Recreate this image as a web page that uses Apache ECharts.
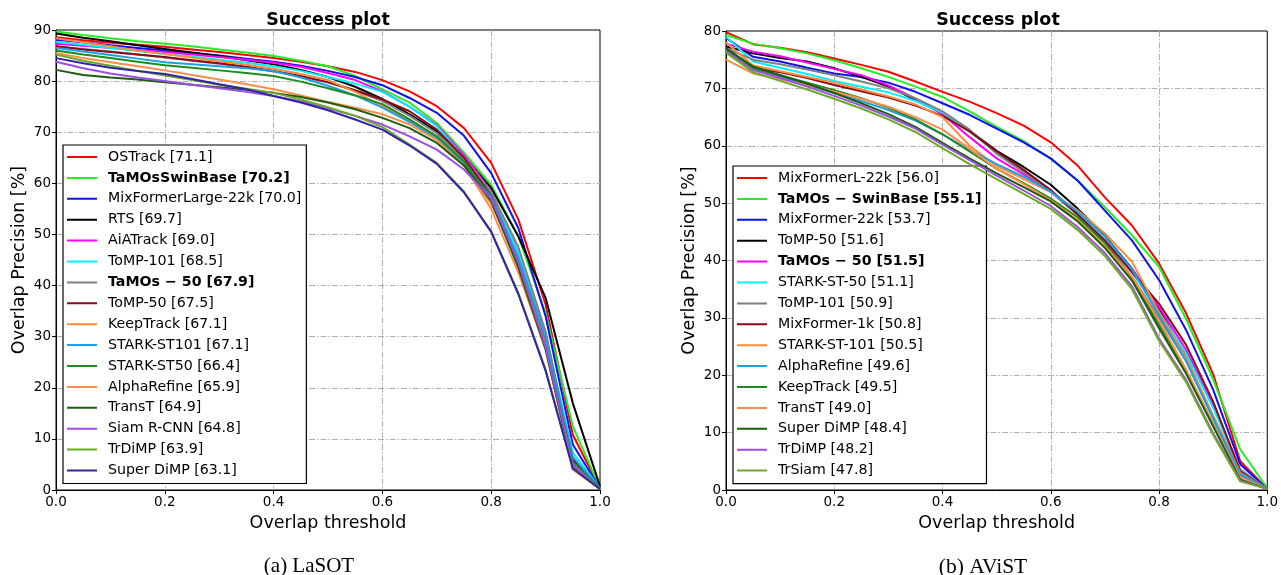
<!DOCTYPE html>
<html>
<head>
<meta charset="utf-8">
<script src="https://cdn.jsdelivr.net/npm/echarts@6/dist/echarts.min.js"></script>
<style>
  html, body { margin: 0; padding: 0; background: #fff; }
  #chart { width: 1281px; height: 575px; }
</style>
</head>
<body>
<div id="chart"></div>
<script>
// overlap thresholds (x values shared by both plots)
const thresholds = [0, 0.05, 0.1, 0.15, 0.2, 0.25, 0.3, 0.35, 0.4, 0.45, 0.5,
                    0.55, 0.6, 0.65, 0.7, 0.75, 0.8, 0.85, 0.9, 0.95, 1.0];

// ---- (a) LaSOT ----
const lasotNames = [
  'OSTrack [71.1]', 'TaMOsSwinBase [70.2]', 'MixFormerLarge-22k [70.0]', 'RTS [69.7]',
  'AiATrack [69.0]', 'ToMP-101 [68.5]', 'TaMOs − 50 [67.9]', 'ToMP-50 [67.5]',
  'KeepTrack [67.1]', 'STARK-ST101 [67.1]', 'STARK-ST50 [66.4]', 'AlphaRefine [65.9]',
  'TransT [64.9]', 'Siam R-CNN [64.8]', 'TrDiMP [63.9]', 'Super DiMP [63.1]'
];
const lasotOSTrack   = [88.6, 88.0, 87.5, 87.1, 86.7, 86.2, 85.7, 85.1, 84.5, 83.8, 82.9, 81.8, 80.2, 78.0, 75.1, 70.8, 64.0, 52.9, 36.3, 10.8, 0.3];
const lasotTaMOsSB   = [89.7, 89.0, 88.4, 87.8, 87.3, 86.8, 86.2, 85.6, 84.9, 84.0, 82.9, 81.0, 78.4, 75.8, 71.8, 66.0, 59.7, 49.6, 34.6, 12.5, 0.3];
const lasotMixFormer = [88.1, 87.6, 87.0, 86.5, 86.0, 85.5, 85.0, 84.4, 83.8, 83.0, 82.0, 80.8, 79.2, 76.7, 73.8, 69.3, 62.0, 51.2, 34.0, 8.9, 0.3];
const lasotRTS       = [89.3, 88.5, 87.8, 87.0, 86.3, 85.6, 84.9, 84.1, 83.3, 82.2, 80.8, 78.9, 76.5, 73.5, 70.2, 65.3, 59.1, 49.6, 37.6, 17.0, 0.7];
const lasotAiATrack  = [87.3, 86.9, 86.5, 86.1, 85.7, 85.2, 84.7, 84.2, 83.6, 82.8, 81.6, 80.2, 78.0, 75.0, 71.4, 65.5, 58.4, 46.5, 30.5, 6.0, 0.3];
const lasotToMP101   = [87.7, 87.1, 86.5, 85.9, 85.3, 84.8, 84.2, 83.6, 82.9, 82.0, 80.8, 79.5, 77.9, 75.0, 71.2, 65.0, 58.1, 46.5, 30.5, 7.3, 0.3];
const lasotTaMOs50   = [86.8, 86.3, 85.8, 85.2, 84.6, 84.0, 83.4, 82.7, 81.9, 80.9, 79.7, 78.1, 76.1, 73.2, 69.8, 64.8, 58.3, 47.5, 31.0, 5.6, 0.3];
const lasotToMP50    = [86.8, 86.2, 85.7, 85.2, 84.7, 84.1, 83.5, 82.8, 82.0, 81.0, 79.8, 78.2, 76.4, 74.1, 70.5, 65.0, 57.5, 45.0, 29.0, 6.0, 0.3];
const lasotKeepTrack = [88.4, 87.6, 86.8, 86.0, 85.3, 84.6, 83.9, 83.2, 82.4, 81.4, 80.2, 77.9, 75.1, 72.2, 68.6, 63.4, 56.0, 44.5, 28.5, 4.0, 0.2];
const lasotStark101  = [86.5, 85.8, 85.1, 84.4, 83.7, 83.3, 82.9, 82.5, 82.0, 80.7, 79.1, 77.2, 74.8, 72.0, 68.8, 64.0, 57.3, 45.5, 29.8, 6.5, 0.3];
const lasotStark50   = [86.0, 85.2, 84.5, 83.8, 83.1, 82.6, 82.1, 81.6, 81.0, 79.9, 78.6, 77.2, 75.5, 72.5, 69.2, 64.3, 56.8, 44.0, 28.0, 5.5, 0.3];
const lasotAlphaRef  = [85.5, 84.5, 83.7, 82.9, 82.1, 81.2, 80.3, 79.4, 78.4, 77.2, 75.9, 74.8, 73.5, 71.5, 68.5, 63.5, 55.0, 42.5, 27.5, 4.0, 0.2];
const lasotTransT    = [82.2, 81.2, 80.7, 80.3, 79.8, 79.3, 78.8, 78.3, 77.7, 76.9, 75.8, 74.5, 72.8, 70.8, 67.9, 63.5, 56.5, 43.5, 27.5, 4.5, 0.2];
const lasotSiamRCNN  = [83.8, 82.5, 81.5, 80.7, 80.0, 79.3, 78.6, 77.9, 77.1, 76.0, 74.7, 73.2, 71.5, 69.2, 66.6, 62.7, 57.0, 44.5, 28.0, 5.0, 0.2];
const lasotTrDiMP    = [85.2, 84.0, 83.0, 82.0, 81.1, 80.2, 79.3, 78.5, 77.7, 76.4, 74.9, 73.2, 71.0, 67.6, 64.0, 58.4, 50.6, 38.5, 23.6, 4.3, 0.2];
const lasotSuperDiMP = [84.5, 83.5, 82.6, 82.0, 81.4, 80.4, 79.4, 78.4, 77.1, 75.8, 74.3, 72.5, 70.5, 67.4, 63.8, 58.2, 50.5, 38.3, 23.3, 4.2, 0.2];
const lasotValues = [lasotOSTrack, lasotTaMOsSB, lasotMixFormer, lasotRTS, lasotAiATrack, lasotToMP101,
  lasotTaMOs50, lasotToMP50, lasotKeepTrack, lasotStark101, lasotStark50, lasotAlphaRef,
  lasotTransT, lasotSiamRCNN, lasotTrDiMP, lasotSuperDiMP];

// ---- (b) AViST ----
const avistNames = [
  'MixFormerL-22k [56.0]', 'TaMOs − SwinBase [55.1]', 'MixFormer-22k [53.7]', 'ToMP-50 [51.6]',
  'TaMOs − 50 [51.5]', 'STARK-ST-50 [51.1]', 'ToMP-101 [50.9]', 'MixFormer-1k [50.8]',
  'STARK-ST-101 [50.5]', 'AlphaRefine [49.6]', 'KeepTrack [49.5]', 'TransT [49.0]',
  'Super DiMP [48.4]', 'TrDiMP [48.2]', 'TrSiam [47.8]'
];
const avistMixFormerL = [79.8, 77.7, 77.1, 76.3, 75.2, 74.1, 72.9, 71.2, 69.4, 67.7, 65.7, 63.5, 60.6, 56.5, 51.0, 46.1, 39.5, 30.8, 20.2, 5.0, 0.2];
const avistTaMOsSB    = [79.3, 77.8, 77.0, 76.1, 74.9, 73.5, 72.0, 70.3, 68.5, 66.0, 63.3, 60.8, 57.7, 53.9, 49.3, 44.4, 38.9, 29.8, 19.3, 7.1, 0.3];
const avistMixFormer  = [78.8, 75.5, 74.7, 73.6, 72.6, 72.0, 71.0, 69.4, 67.4, 65.4, 63.0, 60.6, 57.8, 53.9, 48.7, 43.5, 36.6, 27.9, 17.5, 4.5, 0.2];
const avistToMP50     = [77.3, 76.1, 75.3, 74.7, 73.5, 72.0, 70.3, 68.0, 65.6, 62.6, 59.1, 56.3, 53.2, 49.0, 44.3, 38.6, 31.6, 23.0, 12.8, 3.1, 0.2];
const avistTaMOs50    = [77.8, 76.4, 75.6, 74.5, 73.4, 72.3, 70.5, 68.2, 65.5, 61.5, 57.8, 55.0, 52.0, 48.0, 43.5, 38.5, 31.9, 24.4, 14.9, 3.6, 0.2];
const avistStark50    = [79.0, 74.7, 73.6, 72.5, 71.3, 70.3, 69.3, 67.8, 65.8, 62.5, 58.8, 55.5, 52.2, 48.2, 43.6, 38.0, 31.0, 23.8, 14.3, 3.5, 0.2];
const avistToMP101    = [77.0, 75.0, 74.2, 73.3, 72.3, 71.2, 70.0, 68.3, 66.0, 62.8, 58.6, 55.4, 52.0, 47.9, 43.2, 37.2, 30.0, 22.5, 12.5, 2.5, 0.2];
const avistMixFormer1k = [76.4, 73.6, 72.8, 71.8, 70.6, 69.5, 68.4, 67.0, 65.2, 62.5, 59.0, 55.8, 52.3, 48.0, 43.5, 38.0, 32.5, 25.3, 15.4, 3.3, 0.2];
const avistStark101   = [78.0, 74.0, 73.0, 72.0, 71.0, 69.8, 68.6, 67.2, 65.0, 60.0, 56.5, 54.2, 51.9, 48.7, 44.7, 39.8, 31.0, 23.0, 13.0, 3.0, 0.2];
const avistAlphaRef   = [77.0, 73.5, 72.0, 70.6, 69.2, 67.8, 66.2, 64.4, 62.0, 59.3, 56.8, 54.6, 52.0, 48.5, 44.2, 38.5, 30.5, 22.5, 12.5, 2.8, 0.2];
const avistKeepTrack  = [76.8, 73.5, 72.3, 71.0, 69.7, 68.3, 66.6, 64.6, 62.0, 59.0, 56.0, 53.5, 50.8, 47.5, 43.0, 37.0, 28.8, 20.8, 11.5, 1.8, 0.2];
const avistTransT     = [75.0, 72.6, 71.6, 70.6, 69.4, 68.2, 66.8, 65.0, 62.8, 59.5, 56.0, 53.3, 50.5, 47.0, 42.5, 37.2, 29.5, 21.0, 11.5, 2.2, 0.2];
const avistSuperDiMP  = [77.0, 73.8, 72.3, 70.8, 69.2, 67.4, 65.5, 63.3, 60.5, 57.8, 55.2, 52.8, 50.3, 46.8, 42.2, 36.5, 28.2, 20.3, 11.1, 1.8, 0.2];
const avistTrDiMP     = [76.5, 73.2, 71.8, 70.3, 68.7, 67.0, 65.1, 63.0, 60.2, 57.5, 54.8, 52.2, 49.5, 45.8, 41.3, 35.5, 26.4, 19.2, 9.9, 1.6, 0.2];
const avistTrSiam     = [76.2, 72.8, 71.3, 69.8, 68.2, 66.5, 64.6, 62.4, 59.6, 56.8, 54.2, 51.6, 49.0, 45.3, 40.8, 35.0, 26.0, 18.8, 9.6, 1.5, 0.2];
const avistValues = [avistMixFormerL, avistTaMOsSB, avistMixFormer, avistToMP50, avistTaMOs50, avistStark50,
  avistToMP101, avistMixFormer1k, avistStark101, avistAlphaRef, avistKeepTrack, avistTransT,
  avistSuperDiMP, avistTrDiMP, avistTrSiam];

const yTicksLasot = [0, 10, 20, 30, 40, 50, 60, 70, 80, 90];
const yTicksAvist = [0, 10, 20, 30, 40, 50, 60, 70, 80];

// line colours, in legend order
const lasotColors = ['#ff0000', '#22ee22', '#1010f0', '#000000', '#ff00ff', '#00f0ff', '#808080', '#8b0a1e',
  '#ff8a3a', '#1e9fe6', '#1e8b1e', '#ff8c4a', '#1b5e0b', '#9d4ee6', '#6aac22', '#3322aa'];
const avistColors = ['#ff0000', '#22ee22', '#1010f0', '#000000', '#ff00ff', '#00f0ff', '#808080', '#8b0a1e',
  '#ff8a3a', '#1e9fe6', '#1e8b1e', '#ff8c4a', '#1b5e0b', '#9d4ee6', '#6aac22'];

const boldNames = ['TaMOsSwinBase [70.2]', 'TaMOs − 50 [67.9]', 'TaMOs − SwinBase [55.1]', 'TaMOs − 50 [51.5]'];

const FONT = 'DejaVu Sans';
const gridLine = { color: '#b0b0b0', width: 1, type: [6, 2, 1.5, 2] };

function xAxisFor(gridIndex) {
  return {
    type: 'value', gridIndex, min: 0, max: 1, interval: 0.2,
    name: 'Overlap threshold', nameLocation: 'middle', nameGap: 24,
    nameTextStyle: { fontFamily: FONT, fontSize: 17.5, color: '#000' },
    axisLine: { show: true, lineStyle: { color: '#000', width: 1 } },
    axisTick: { show: true, length: 4, lineStyle: { color: '#000' } },
    axisLabel: { fontFamily: FONT, fontSize: 13.5, color: '#000', margin: 5, formatter: v => v.toFixed(1) },
    splitLine: { show: true, showMinLine: false, showMaxLine: false, lineStyle: gridLine }
  };
}

function yAxisFor(gridIndex, ticks) {
  return {
    type: 'value', gridIndex, min: ticks[0], max: ticks[ticks.length - 1], interval: 10,
    name: 'Overlap Precision [%]', nameLocation: 'middle', nameGap: 28, nameRotate: 90,
    nameTextStyle: { fontFamily: FONT, fontSize: 17.5, color: '#000' },
    axisLine: { show: true, lineStyle: { color: '#000', width: 1 } },
    axisTick: { show: true, length: 4, lineStyle: { color: '#000' } },
    axisLabel: { fontFamily: FONT, fontSize: 13.5, color: '#000', margin: 5 },
    splitLine: { show: true, showMinLine: false, showMaxLine: false, lineStyle: gridLine }
  };
}

function seriesFor(names, values, colors, idx) {
  return names.map((name, i) => ({
    name, type: 'line', xAxisIndex: idx, yAxisIndex: idx,
    data: thresholds.map((t, k) => [t, values[i][k]]),
    symbol: 'none', z: 2 + i,
    lineStyle: { color: colors[i], width: 2 },
    itemStyle: { color: colors[i] }
  }));
}

function legendFor(names, left, top) {
  return {
    orient: 'vertical', left, top, data: names, selectedMode: false,
    backgroundColor: '#fff', borderColor: '#000', borderWidth: 1.2,
    padding: [5, 5, 6, 4], itemGap: 6.9, itemWidth: 30, itemHeight: 14,
    icon: 'path://M0,12 L60,12 L60,16 L0,16 Z M0,0 L0,0.01 M0,28 L0,27.99',
    formatter: n => boldNames.includes(n) ? '{b|' + n + '}' : '{n|' + n + '}',
    textStyle: {
      fontFamily: FONT, fontSize: 14, color: '#000',
      rich: {
        b: { fontFamily: FONT, fontSize: 14.2, fontWeight: 'bold', color: '#000', padding: [0, 0, 0, 6] },
        n: { fontFamily: FONT, fontSize: 14.2, color: '#000', padding: [0, 0, 0, 6] }
      }
    }
  };
}

const chart = echarts.init(document.getElementById('chart'), null, { renderer: 'canvas' });

const option = {
  animation: false,
  backgroundColor: '#fff',
  title: [
    { text: 'Success plot', left: 323, top: 6, textAlign: 'center',
      textStyle: { fontFamily: FONT, fontSize: 17.5, fontWeight: 'bold', color: '#000' } },
    { text: 'Success plot', left: 993, top: 6, textAlign: 'center',
      textStyle: { fontFamily: FONT, fontSize: 17.5, fontWeight: 'bold', color: '#000' } },
    { text: '(a) LaSOT', left: 304, top: 551, textAlign: 'center',
      textStyle: { fontFamily: 'Liberation Serif', fontSize: 21, fontWeight: 'normal', color: '#000' } },
    { text: '(b) AViST', left: 978, top: 551, textAlign: 'center',
      textStyle: { fontFamily: 'Liberation Serif', fontSize: 21.5, fontWeight: 'normal', color: '#000' } }
  ],
  grid: [
    { left: 56, top: 30, width: 544, height: 460, show: true, borderColor: '#000', borderWidth: 1 },
    { left: 726, top: 31, width: 544, height: 459, show: true, borderColor: '#000', borderWidth: 1 }
  ],
  xAxis: [xAxisFor(0), xAxisFor(1)],
  yAxis: [yAxisFor(0, yTicksLasot), yAxisFor(1, yTicksAvist)],
  legend: [legendFor(lasotNames, 63, 145), legendFor(avistNames, 733, 166)],
  series: [
    ...seriesFor(lasotNames, lasotValues, lasotColors, 0),
    ...seriesFor(avistNames, avistValues, avistColors, 1)
  ]
};

chart.setOption(option);
</script>
</body>
</html>
